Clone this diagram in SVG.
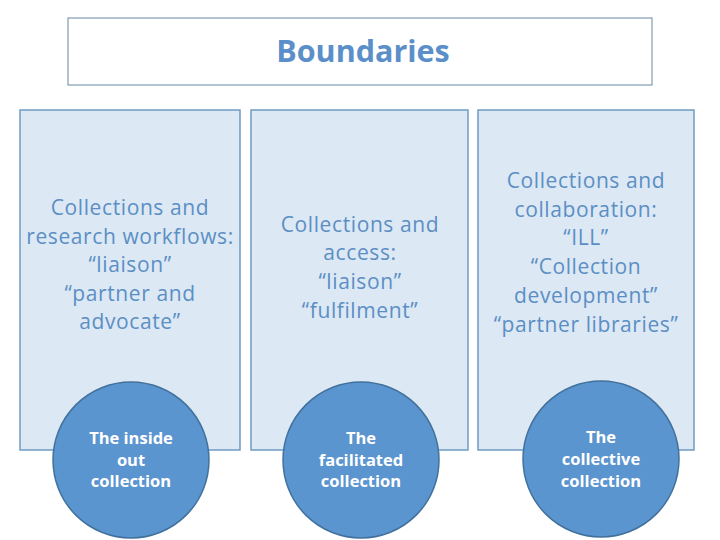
<svg xmlns="http://www.w3.org/2000/svg" width="720" height="540" viewBox="0 0 720 540">
<style>
.box{fill:#dce8f4;stroke:#6f9ac4;stroke-width:1.5}
.bt{font-family:"Open Sans","Noto Sans","DejaVu Sans",sans-serif;font-size:21px;letter-spacing:0.6px;fill:#5b8fc4;text-anchor:middle}
.circ{fill:#5b95d0;stroke:#41719c;stroke-width:1.5}
.ct{font-family:"Open Sans","Noto Sans","DejaVu Sans",sans-serif;font-size:16.5px;font-weight:bold;fill:#ffffff;text-anchor:middle}
.title{font-family:"Open Sans","Noto Sans","DejaVu Sans",sans-serif;font-size:30.5px;font-weight:bold;fill:#5b8fc9;text-anchor:middle}
</style>
<rect width="720" height="540" fill="#ffffff"/>
<g id="title">
<rect x="68" y="18" width="584" height="67" fill="#ffffff" stroke="#7f9bb5" stroke-width="1.2"/>
<text class="title" x="363" y="62">Boundaries</text>
</g>
<g id="box1">
<rect class="box" x="20" y="110" width="220" height="340"/>
<text class="bt" x="130" y="215">Collections and</text>
<text class="bt" x="130" y="244">research workflows:</text>
<text class="bt" x="130" y="272">“liaison”</text>
<text class="bt" x="130" y="301">“partner and</text>
<text class="bt" x="130" y="329">advocate”</text>
</g>
<g id="box2">
<rect class="box" x="251" y="110" width="217" height="340"/>
<text class="bt" x="360" y="232">Collections and</text>
<text class="bt" x="360" y="260">access:</text>
<text class="bt" x="360" y="289">“liaison”</text>
<text class="bt" x="360" y="318">“fulfilment”</text>
</g>
<g id="box3">
<rect class="box" x="478" y="110" width="216" height="340"/>
<text class="bt" x="586" y="188">Collections and</text>
<text class="bt" x="586" y="217">collaboration:</text>
<text class="bt" x="586" y="245">“ILL”</text>
<text class="bt" x="586" y="274">“Collection</text>
<text class="bt" x="586" y="303">development”</text>
<text class="bt" x="586" y="332">“partner libraries”</text>
</g>
<g id="circle1">
<circle class="circ" cx="131" cy="460" r="78"/>
<text class="ct" x="131" y="444">The inside</text>
<text class="ct" x="131" y="466">out</text>
<text class="ct" x="131" y="487">collection</text>
</g>
<g id="circle2">
<circle class="circ" cx="361" cy="460" r="78"/>
<text class="ct" x="361" y="444">The</text>
<text class="ct" x="361" y="466">facilitated</text>
<text class="ct" x="361" y="487">collection</text>
</g>
<g id="circle3">
<circle class="circ" cx="601" cy="459" r="78"/>
<text class="ct" x="601" y="443">The</text>
<text class="ct" x="601" y="465">collective</text>
<text class="ct" x="601" y="487">collection</text>
</g>
<g id="connectors"></g>
</svg>
